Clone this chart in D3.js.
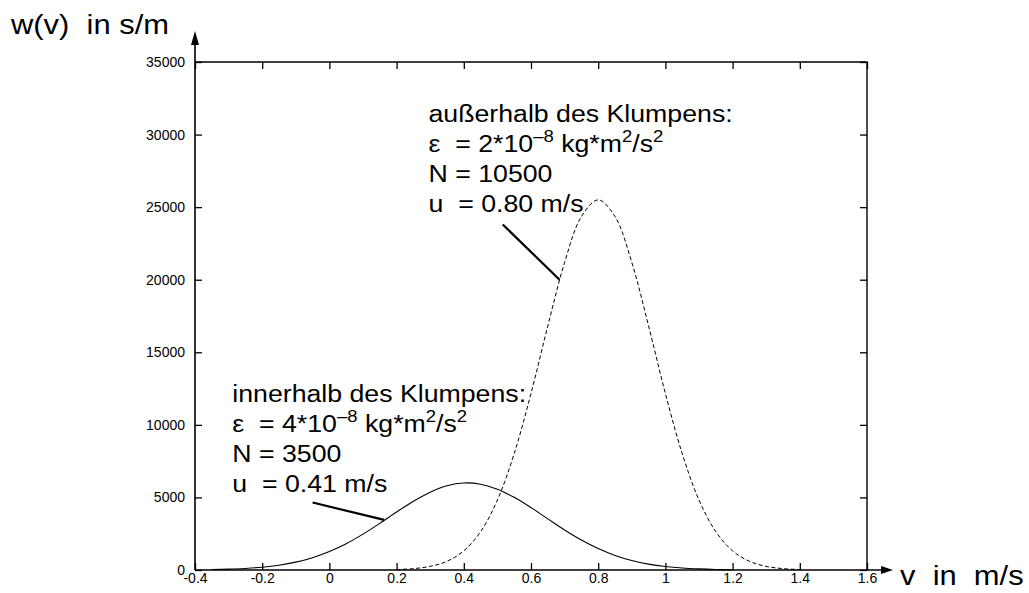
<!DOCTYPE html>
<html>
<head>
<meta charset="utf-8">
<script src="https://cdn.jsdelivr.net/npm/d3@7"></script>
<style>
  html, body { margin: 0; padding: 0; background: #fff; }
  svg { display: block; font-family: "Liberation Sans", Arial, Helvetica, sans-serif; }
  text { white-space: pre; fill: #000; }
</style>
</head>
<body>
<svg id="chart" width="1029" height="593"></svg>
<script>
// Velocity grid and distribution inside the clump (solid curve)
const vInner = [-0.35, -0.30, -0.25, -0.20, -0.15, -0.10, -0.05, 0.00, 0.05, 0.10, 0.15,
  0.20, 0.25, 0.30, 0.35, 0.40, 0.45, 0.50, 0.55, 0.60, 0.65, 0.70, 0.75, 0.80, 0.85,
  0.90, 0.95, 1.00, 1.05, 1.10, 1.15, 1.20];
const wInner = [30, 57, 107, 193, 332, 544, 850, 1270, 1810, 2470, 3215,
  3995, 4740, 5365, 5805, 5995, 5910, 5570, 5005, 4300, 3525, 2760, 2065, 1475, 1005,
  655, 405, 240, 135, 75, 38, 19];

// Velocity grid and distribution outside the clump (dashed curve)
const vOuter = [0.20, 0.25, 0.30, 0.35, 0.40, 0.45, 0.50, 0.55, 0.60, 0.65, 0.70, 0.75,
  0.80, 0.85, 0.90, 0.95, 1.00, 1.05, 1.10, 1.15, 1.20, 1.25, 1.30, 1.35, 1.40];
const wOuter = [30, 95, 250, 600, 1320, 2640, 4820, 8020, 12160, 16810, 21190, 24350,
  25500, 24350, 21190, 16810, 12160, 8020, 4820, 2640, 1320, 600, 250, 95, 30];

// Axis ticks
const xTicks = [-0.4, -0.2, 0, 0.2, 0.4, 0.6, 0.8, 1.0, 1.2, 1.4, 1.6];
const xTickLabels = ["-0.4", "-0.2", "0", "0.2", "0.4", "0.6", "0.8", "1", "1.2", "1.4", "1.6"];
const yTicks = [0, 5000, 10000, 15000, 20000, 25000, 30000, 35000];
const yTickLabels = ["0", "5000", "10000", "15000", "20000", "25000", "30000", "35000"];

// Annotation anchors (data units): text block origin, leader line start and end
const innerLabel = { v: -0.289, w: 11570, lineFrom: [-0.05, 4650], lineTo: [0.163, 3450] };
const outerLabel = { v: 0.295, w: 30870, lineFrom: [0.516, 23800], lineTo: [0.685, 20000] };

const svg = d3.select("#chart");
const W = 1029, H = 593;
const margin = { left: 195, right: 162, top: 62, bottom: 23 };

const x = d3.scaleLinear().domain([-0.4, 1.6]).range([margin.left, W - margin.right]);
const y = d3.scaleLinear().domain([0, 35000]).range([H - margin.bottom, margin.top]);

const x0 = x.range()[0], x1 = x.range()[1];
const yBottom = y.range()[0], yTop = y.range()[1];

function styleTicks(g) {
  g.select(".domain").remove();
  g.selectAll("line").attr("stroke", "#000").attr("stroke-width", 1.3);
  g.selectAll("text").attr("font-size", 14)
    .attr("font-family", "Liberation Sans, Arial, sans-serif").attr("fill", "#000");
}

// Ticks (drawn inward) and their labels
svg.append("g")
  .attr("transform", `translate(0,${yBottom})`)
  .call(d3.axisBottom(x).tickValues(xTicks)
    .tickFormat((d, i) => xTickLabels[i])
    .tickSizeInner(-7).tickSizeOuter(0).tickPadding(3))
  .call(styleTicks);

svg.append("g")
  .attr("transform", `translate(${x0},0)`)
  .call(d3.axisLeft(y).tickValues(yTicks)
    .tickFormat((d, i) => yTickLabels[i])
    .tickSizeInner(-7).tickSizeOuter(0).tickPadding(10))
  .call(styleTicks);

// Mirrored ticks along the top and right borders
svg.append("g")
  .attr("transform", `translate(0,${yTop})`)
  .call(d3.axisTop(x).tickValues(xTicks).tickFormat("").tickSizeInner(-7).tickSizeOuter(0))
  .call(styleTicks);
svg.append("g")
  .attr("transform", `translate(${x1},0)`)
  .call(d3.axisRight(y).tickValues(yTicks).tickFormat("").tickSizeInner(-7).tickSizeOuter(0))
  .call(styleTicks);

// Frame: top and right border
svg.append("path")
  .attr("d", `M${x0},${yTop}H${x1}V${yBottom}`)
  .attr("fill", "none").attr("stroke", "#000").attr("stroke-width", 1.4);

// Axes with arrowheads
const axisG = svg.append("g").attr("stroke", "#000").attr("fill", "#000");
axisG.append("line").attr("x1", x0).attr("y1", yBottom).attr("x2", x0).attr("y2", yTop - 18).attr("stroke-width", 1.6);
axisG.append("path").attr("stroke", "none")
  .attr("d", `M${x0 - 4},${yTop - 17}L${x0 + 4},${yTop - 17}L${x0},${yTop - 31}Z`);
axisG.append("line").attr("x1", x0).attr("y1", yBottom).attr("x2", x1 + 15).attr("y2", yBottom).attr("stroke-width", 1.6);
axisG.append("path").attr("stroke", "none")
  .attr("d", `M${x1 + 14},${yBottom - 4}L${x1 + 14},${yBottom + 4}L${x1 + 26},${yBottom}Z`);

// Axis titles
svg.append("text")
  .attr("transform", "translate(11,34) scale(1.145,1)")
  .attr("font-size", 27)
  .text("w(v)  in s/m");
svg.append("text")
  .attr("transform", `translate(${x1 + 33},585) scale(1.145,1)`)
  .attr("font-size", 27)
  .text("v  in  m/s");

// Curves
const line = d3.line().x(d => x(d[0])).y(d => y(d[1])).curve(d3.curveCatmullRom.alpha(0.5));

svg.append("path")
  .datum(vInner.map((v, i) => [v, wInner[i]]))
  .attr("d", line)
  .attr("fill", "none").attr("stroke", "#000").attr("stroke-width", 1.1);

svg.append("path")
  .datum(vOuter.map((v, i) => [v, wOuter[i]]))
  .attr("d", line)
  .attr("fill", "none").attr("stroke", "#000").attr("stroke-width", 1)
  .attr("stroke-dasharray", "4,2.5");

// Annotation blocks
const fs = 24.5, step = 30, sup = 17, lift = 10;
function labelBlock(anchor, title, eps, n, u) {
  const g = svg.append("g")
    .attr("transform", `translate(${x(anchor.v)},${y(anchor.w)}) scale(1.09,1)`)
    .attr("font-size", fs);
  g.append("text").attr("y", 0).text(title);
  const t = g.append("text").attr("y", step);
  t.append("tspan").text("\u03b5  = " + eps + "*10");
  t.append("tspan").attr("font-size", sup).attr("dy", -lift).text("\u20138");
  t.append("tspan").attr("dy", lift).text(" kg*m");
  t.append("tspan").attr("font-size", sup).attr("dy", -lift).text("2");
  t.append("tspan").attr("dy", lift).text("/s");
  t.append("tspan").attr("font-size", sup).attr("dy", -lift).text("2");
  g.append("text").attr("y", 2 * step).text("N = " + n);
  g.append("text").attr("y", 3 * step).text("u  = " + u + " m/s");

  svg.append("line")
    .attr("x1", x(anchor.lineFrom[0])).attr("y1", y(anchor.lineFrom[1]))
    .attr("x2", x(anchor.lineTo[0])).attr("y2", y(anchor.lineTo[1]))
    .attr("stroke", "#000").attr("stroke-width", 2.2);
}

labelBlock(outerLabel, "au\u00dferhalb des Klumpens:", "2", "10500", "0.80");
labelBlock(innerLabel, "innerhalb des Klumpens:", "4", "3500", "0.41");
</script>
</body>
</html>
